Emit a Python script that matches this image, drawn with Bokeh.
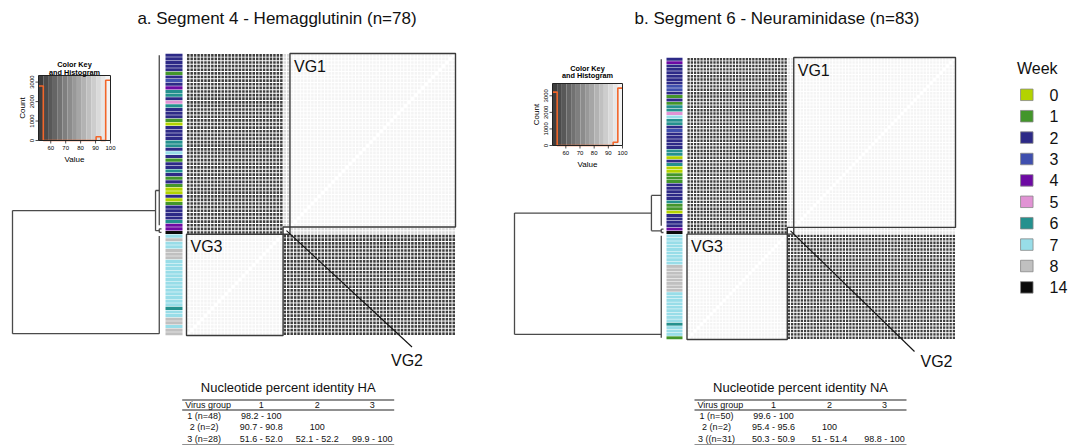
import numpy as np
from bokeh.plotting import figure
from bokeh.models import Range1d
from bokeh.embed import file_html
from bokeh.resources import INLINE
from bokeh.core.properties import value

FONT = "Liberation Sans"

# ------------------------------------------------------------------ data
week_labels = ["0", "1", "2", "3", "4", "5", "6", "7", "8", "14"]
week_values = [0, 1, 2, 3, 4, 5, 6, 7, 8, 14]
week_colors = ["#b3d300", "#43962b", "#2d2a87", "#3f4fae", "#6d0aa3",
               "#e193d4", "#24918e", "#98dde8", "#c0c0c0", "#0a0a0a"]

ha_title = "a. Segment 4 - Hemagglutinin (n=78)"
na_title = "b. Segment 6 - Neuraminidase (n=83)"

ha_group_sizes = [48, 2, 28]
na_group_sizes = [50, 2, 31]

# week of each isolate, in dendrogram (row) order, top to bottom
ha_weeks = [2, 2, 2, 2, 2, 1, 2, 3, 2, 4, 6, 6, 2, 5, 6, 2, 2, 2, 1, 0,
            2, 2, 2, 2, 6, 6, 2, 7, 2, 1, 2, 2, 6, 2, 1, 2, 1, 0, 0, 2,
            0, 1, 2, 2, 2, 2, 6, 4,
            4, 14,
            7, 8, 7, 7, 8, 8, 8, 7, 7, 7, 7, 7, 7, 7, 7, 7, 7, 7, 7, 7,
            6, 7, 7, 8, 8, 7, 8, 8]
na_weeks = [2, 4, 2, 2, 2, 2, 2, 2, 3, 3, 2, 1, 2, 1, 6, 6, 5, 7, 6, 6,
            2, 3, 2, 2, 2, 2, 2, 6, 6, 0, 2, 6, 0, 0, 1, 1, 1, 2, 2, 2,
            2, 2, 6, 1, 1, 0, 2, 2, 2, 2,
            4, 14,
            7, 7, 7, 7, 7, 7, 7, 7, 7, 8, 8, 8, 8, 8, 8, 8, 8, 7, 7, 7,
            7, 7, 7, 7, 7, 7, 6, 7, 7, 7, 1]

# nucleotide percent identity between virus groups (lower triangle)
ha_pid_low = [[98.2], [90.7, 100.0], [51.6, 52.1, 99.9]]
ha_pid_high = [[100.0], [90.8, 100.0], [52.0, 52.2, 100.0]]
na_pid_low = [[99.6], [95.4, 100.0], [50.3, 51.0, 98.8]]
na_pid_high = [[100.0], [95.6, 100.0], [50.9, 51.4, 100.0]]

table_header = ["Virus group", "1", "2", "3"]
ha_table_title = "Nucleotide percent identity HA"
ha_table_rows = ["1 (n=48)", "2 (n=2)", "3 (n=28)"]
ha_table_cells = [["98.2 - 100", "", ""],
                  ["90.7 - 90.8", "100", ""],
                  ["51.6 - 52.0", "52.1 - 52.2", "99.9 - 100"]]
na_table_title = "Nucleotide percent identity NA"
na_table_rows = ["1 (n=50)", "2 (n=2)", "3 ((n=31)"]
na_table_cells = [["99.6 - 100", "", ""],
                  ["95.4 - 95.6", "100", ""],
                  ["50.3 - 50.9", "51 - 51.4", "98.8 - 100"]]

# dendrogram: attach position of each group's subtree (leaf units)
# and merge heights relative to the root
ha_cluster_pos = [37.4, 48.5, 77.0]
ha_merge_heights = [0.04, 1.0]
na_cluster_pos = [40.1, 50.5, 81.0]
na_merge_heights = [0.081, 1.0]
cluster_height = 0.015

key_ticks = [60, 70, 80, 90, 100]
count_ticks = [0, 1000, 2000, 3000]
n_bins = 15
vg_labels = ["VG1", "VG2", "VG3"]

# ------------------------------------------------------------------ figure
p = figure(width=1083, height=445, x_range=Range1d(0, 1083), y_range=Range1d(445, 0),
           output_backend="svg", toolbar_location=None,
           x_axis_location=None, y_axis_location=None, min_border=0,
           outline_line_color=None, background_fill_color="white",
           border_fill_color="white")
p.grid.visible = False


def txt(x, y, s, size, align="center", baseline="middle", bold=False, angle=0.0,
        color="#111111"):
    p.text(x=[x], y=[y], text=[s], text_font=value(FONT),
           text_font_size=value(f"{size}px"), text_align=align,
           text_baseline=baseline, text_color=color, angle=angle,
           text_font_style="bold" if bold else "normal")


def groups_of(sizes):
    g = []
    for k, s in enumerate(sizes):
        g += [k] * s
    return np.array(g)


def identity_matrix(sizes, lo, hi):
    g = groups_of(sizes)
    n = len(g)
    mid = {}
    for a in range(len(sizes)):
        for b in range(a + 1):
            m = (lo[a][b] + hi[a][b]) / 2.0
            mid[(a, b)] = m
            mid[(b, a)] = m
    M = np.empty((n, n))
    for i in range(n):
        for j in range(n):
            M[i, j] = 100.0 if i == j else mid[(g[i], g[j])]
    return M


def panel(title, weeks, sizes, lo, hi, cpos, mh, G):
    n = len(weeks)
    M = identity_matrix(sizes, lo, hi)
    vmin, vmax = M.min(), M.max()
    edges = np.linspace(vmin, vmax, n_bins + 1)
    bw = edges[1] - edges[0]
    counts, _ = np.histogram(M.ravel(), bins=edges)

    def bin_gray(k):
        g = int(round(62 + k * (244 - 62) / (n_bins - 1)))
        return "#%02x%02x%02x" % (g, g, g)

    def col(v):
        if v >= 100:
            return "#ffffff"
        k = min(int((v - vmin) / bw), n_bins - 1)
        return bin_gray(k)

    # title
    txt(G["title_x"], 18, title, 17)

    # heatmap cells (white gap between cells)
    hx0, hx1, hy0, hy1 = G["heat"]
    cw = (hx1 - hx0) / n
    rh = (hy1 - hy0) / n
    gap = 0.95
    xs, ys, cs = [], [], []
    for r in range(n):
        for c in range(n):
            xs.append(hx0 + (c + 0.5) * cw)
            ys.append(hy0 + (r + 0.5) * rh)
            cs.append(col(M[r, n - 1 - c]))
    p.rect(x=xs, y=ys, width=cw - gap, height=rh - gap, fill_color=cs, line_color=None)

    # side colour bar
    bx0, bx1 = G["bar"]
    wk_col = dict(zip(week_values, week_colors))
    p.rect(x=[(bx0 + bx1) / 2] * n, y=[hy0 + (r + 0.5) * rh for r in range(n)],
           width=bx1 - bx0, height=rh - 0.5, fill_color=[wk_col[w] for w in weeks],
           line_color=None)

    # group boxes
    starts = np.cumsum([0] + sizes[:-1])
    boxes = []
    for a, s in enumerate(sizes):
        st, en = starts[a], starts[a] + s
        boxes.append((hx0 + (n - en) * cw, hx0 + (n - st) * cw, hy0 + st * rh, hy0 + en * rh))
    p.quad(left=[b[0] for b in boxes], right=[b[1] for b in boxes],
           top=[b[2] for b in boxes], bottom=[b[3] for b in boxes],
           fill_color=None, line_color="#3a3a3a", line_width=1.4)
    for a in (0, 2):
        txt(boxes[a][0] + 4, boxes[a][2] + 4, vg_labels[a], 16, align="left", baseline="top")
    b2 = boxes[1]
    ex, ey = G["vg2_line"]
    p.line([(b2[0] + b2[1]) / 2, ex], [(b2[2] + b2[3]) / 2, ey], line_color="#111111",
           line_width=1.1)
    txt(G["vg2_label"][0], G["vg2_label"][1], vg_labels[1], 16)

    # dendrogram
    rx, lx = G["dendro"]

    def X(h):
        return lx - h * (lx - rx)

    def Y(pos):
        return hy0 + (pos + 0.5) * rh

    segs_x, segs_y = [], []
    for a, s in enumerate(sizes):
        st, en = starts[a], starts[a] + s - 1
        segs_x.append([X(cluster_height), X(cluster_height)])
        segs_y.append([Y(st), Y(en)])
        if s <= 3:
            for leaf in range(st, en + 1):
                segs_x.append([X(cluster_height), lx])
                segs_y.append([Y(leaf), Y(leaf)])
    hA = mh[0]
    segs_x += [[X(hA), X(hA)], [X(hA), X(cluster_height)], [X(hA), X(cluster_height)]]
    segs_y += [[Y(cpos[0]), Y(cpos[1])], [Y(cpos[0])] * 2, [Y(cpos[1])] * 2]
    posA = (cpos[0] + cpos[1]) / 2
    hR = mh[1]
    segs_x += [[X(hR), X(hR)], [X(hR), X(hA)], [X(hR), X(cluster_height)]]
    segs_y += [[Y(posA), Y(cpos[2])], [Y(posA)] * 2, [Y(cpos[2])] * 2]
    p.multi_line(xs=segs_x, ys=segs_y, line_color="#4a4a4a", line_width=1.3)

    # colour key with histogram
    kx0, ky0, kx1, ky1 = G["key"]

    def KX(v):
        return kx0 + (v - vmin) / (vmax - vmin) * (kx1 - kx0)

    cmax = counts.max() * 1.08

    def KY(cn):
        return ky1 - cn / cmax * (ky1 - ky0)

    p.quad(left=[KX(e) for e in edges[:-1]], right=[KX(e) for e in edges[1:]],
           top=[ky0] * n_bins, bottom=[ky1] * n_bins,
           fill_color=[bin_gray(k) for k in range(n_bins)], line_color=None)
    p.step(x=[KX(e) for e in edges], y=[KY(cn) for cn in list(counts) + [counts[-1]]],
           mode="after", line_color="#f2662a", line_width=1.6)
    p.quad(left=[kx0], right=[kx1], top=[ky0], bottom=[ky1], fill_color=None,
           line_color="#222222", line_width=1)
    kmid = (kx0 + kx1) / 2
    t1, t2 = G["key_title_dy"]
    txt(kmid, ky0 + t1, "Color Key", 7.3, bold=True, color="#000000")
    txt(kmid, ky0 + t2, "and Histogram", 7.3, bold=True, color="#000000")
    tx = [KX(t) for t in key_ticks]
    p.multi_line(xs=[[x, x] for x in tx], ys=[[ky1, ky1 + 3]] * len(tx), line_color="#222222",
                 line_width=0.8)
    for t, x in zip(key_ticks, tx):
        txt(x, ky1 + 5, str(t), 6, baseline="top", color="#000000")
    txt(kmid, ky1 + 19, "Value", 8, color="#000000")
    cts = [c for c in count_ticks if c <= cmax]
    p.multi_line(xs=[[kx0 - 3, kx0]] * len(cts), ys=[[KY(c), KY(c)] for c in cts],
                 line_color="#222222", line_width=0.8)
    for c in cts:
        txt(kx0 - 5, KY(c), str(c), 6, baseline="bottom", angle=np.pi / 2, color="#000000")
    txt(kx0 - 16, (ky0 + ky1) / 2, "Count", 8, angle=np.pi / 2, color="#000000")


def table(title, rows, cells, x0):
    w = 212
    txt(x0 + w / 2, 387, title, 13)
    p.multi_line(xs=[[x0, x0 + w]] * 3, ys=[[399.5] * 2, [409.5] * 2, [444.5] * 2],
                 line_color="#222222", line_width=1.1)
    col_x = [x0 + 79, x0 + 135, x0 + 190]
    txt(x0 + 3, 404.5, table_header[0], 9, align="left")
    for k in range(3):
        txt(col_x[k], 404.5, table_header[k + 1], 9)
    for r, (lab, vals) in enumerate(zip(rows, cells)):
        y = 415.3 + r * 11.6
        txt(x0 + 22, y, lab, 9)
        for k, v in enumerate(vals):
            if v:
                txt(col_x[k], y, v, 9)


panel(ha_title, ha_weeks, ha_group_sizes, ha_pid_low, ha_pid_high, ha_cluster_pos,
      ha_merge_heights,
      dict(title_x=276.5, heat=(186, 455, 53, 335), bar=(165, 182), dendro=(12, 161),
           vg2_line=(411.5, 346.5), vg2_label=(406.5, 360), key=(38, 75, 110, 140),
           key_title_dy=(-11, -3.3)))
panel(na_title, na_weeks, na_group_sizes, na_pid_low, na_pid_high, na_cluster_pos,
      na_merge_heights,
      dict(title_x=776.5, heat=(686.5, 955, 57, 339), bar=(666, 682), dendro=(514, 663),
           vg2_line=(914, 351), vg2_label=(936, 361), key=(552, 83, 622, 145),
           key_title_dy=(-15.5, -8)))
table(ha_table_title, ha_table_rows, ha_table_cells, 181.7)
table(na_table_title, na_table_rows, na_table_cells, 694)

# legend
txt(1016.5, 67.5, "Week", 16, align="left")
ly = [94.3 + 21.4 * i for i in range(len(week_labels))]
p.rect(x=[1026.3] * len(ly), y=ly, width=12.5, height=11.5, fill_color=week_colors,
       line_color="#888888", line_width=0.8)
for lab, y in zip(week_labels, ly):
    txt(1049, y, lab, 16, align="left")

open("out.html", "w").write(file_html(p, INLINE))
